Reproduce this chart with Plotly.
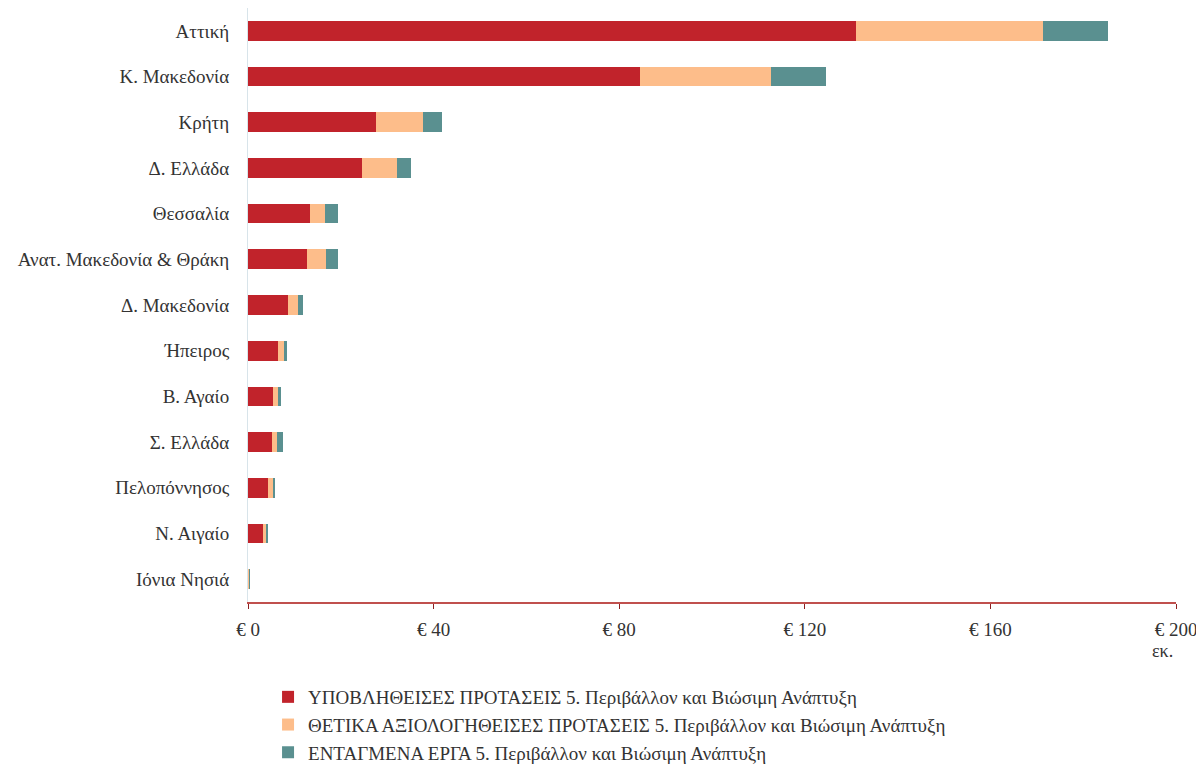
import plotly.graph_objects as go

regions = ["Αττική", "Κ. Μακεδονία", "Κρήτη", "Δ. Ελλάδα", "Θεσσαλία",
           "Ανατ. Μακεδονία & Θράκη", "Δ. Μακεδονία", "Ήπειρος", "Β. Αγαίο",
           "Σ. Ελλάδα", "Πελοπόννησος", "Ν. Αιγαίο", "Ιόνια Νησιά"]
submitted = [131.0, 84.5, 27.6, 24.6, 13.4, 12.7, 8.6, 6.5, 5.4, 5.2, 4.3, 3.2, 0.1]
approved = [40.3, 28.2, 10.1, 7.5, 3.2, 4.1, 2.2, 1.3, 1.1, 1.0, 1.1, 0.7, 0.2]
integrated = [14.0, 11.9, 4.1, 3.0, 2.8, 2.6, 1.1, 0.6, 0.6, 1.3, 0.4, 0.2, 0.1]
series_names = ["ΥΠΟΒΛΗΘΕΙΣΕΣ ΠΡΟΤΑΣΕΙΣ 5. Περιβάλλον και Βιώσιμη Ανάπτυξη",
                "ΘΕΤΙΚΑ ΑΞΙΟΛΟΓΗΘΕΙΣΕΣ ΠΡΟΤΑΣΕΙΣ 5. Περιβάλλον και Βιώσιμη Ανάπτυξη",
                "ΕΝΤΑΓΜΕΝΑ ΕΡΓΑ 5. Περιβάλλον και Βιώσιμη Ανάπτυξη"]
tick_vals = [0, 40, 80, 120, 160, 200]
tick_text = ["€ 0", "€ 40", "€ 80", "€ 120", "€ 160", "€ 200"]
colors = ["#C1232B", "#FDBD8A", "#5A9090"]

fig = go.Figure()
for name, vals, col in zip(series_names, [submitted, approved, integrated], colors):
    fig.add_trace(go.Bar(y=regions, x=vals, name=name, orientation="h",
                         marker=dict(color=col, line=dict(width=0)), width=0.43))

fig.update_layout(
    barmode="stack",
    width=1196, height=764,
    margin=dict(l=240, r=28, t=0, b=161),
    paper_bgcolor="white", plot_bgcolor="white",
    font=dict(family="Liberation Serif", size=19, color="#333333"),
    showlegend=True,
    legend=dict(x=0.0216, y=-0.128, xanchor="left", yanchor="top",
                orientation="v", traceorder="normal",
                font=dict(size=19), itemwidth=30),
    xaxis=dict(range=[0, 200], tickvals=tick_vals, ticktext=tick_text,
               showgrid=False, zeroline=False, showline=True,
               linecolor="#C0504D", linewidth=1.5, ticks="outside",
               tickcolor="#8B2020", ticklen=5, ticklabelstandoff=4),
    yaxis=dict(autorange="reversed", showgrid=False, zeroline=False,
               showline=True, linecolor="#D8E4EA", linewidth=1,
               ticks="", ticklabelstandoff=14),
)
fig.add_annotation(text="εκ.", x=200, y=0, xref="x", yref="paper",
                   xanchor="center", yanchor="top",
                   xshift=-14, yshift=-37, showarrow=False, font=dict(size=18))

fig.write_html("out.html")
